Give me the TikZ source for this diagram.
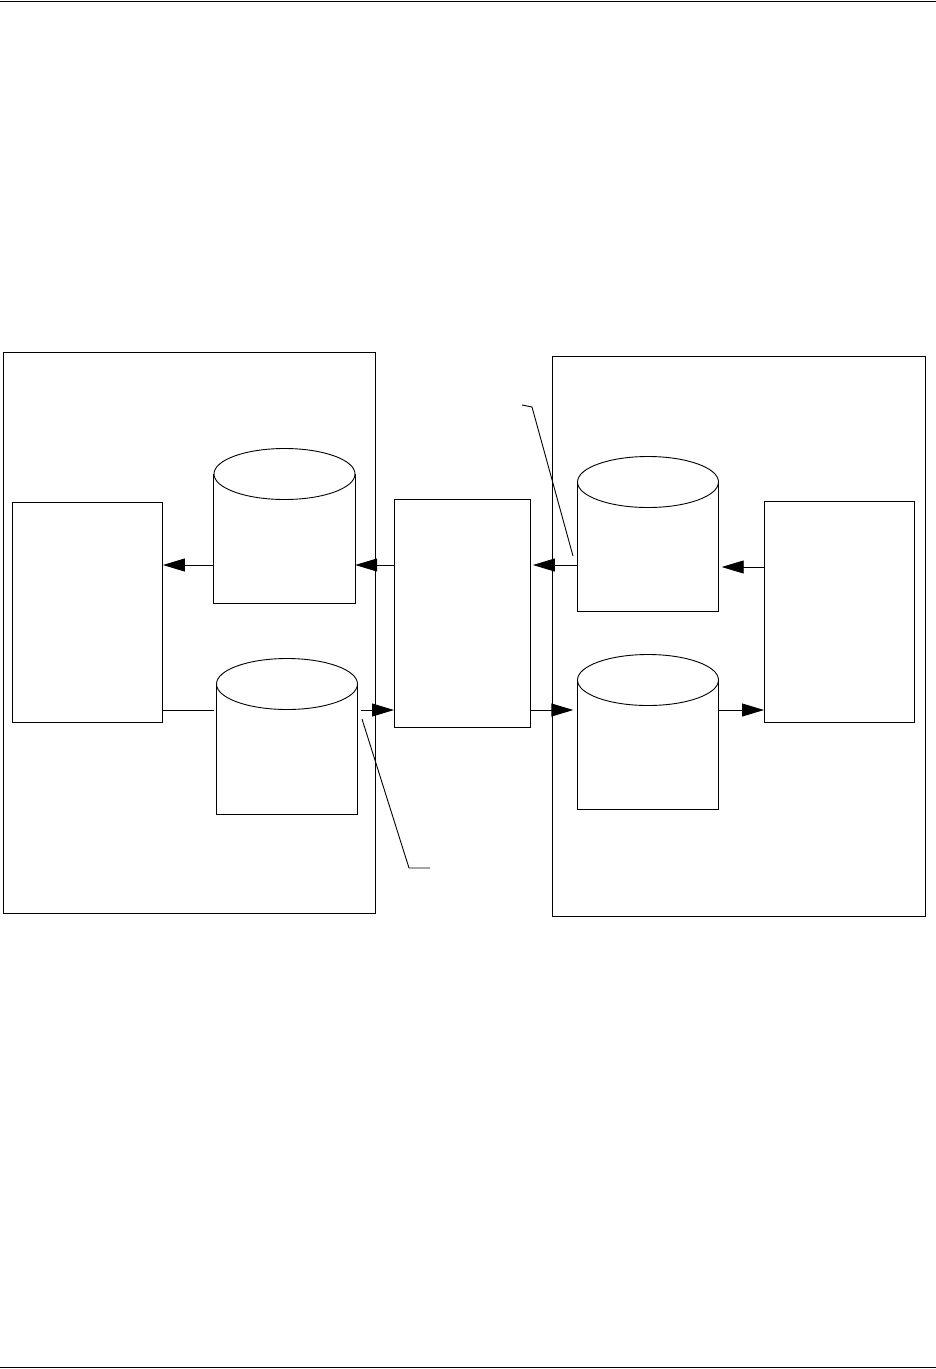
\documentclass[tikz,border=0pt]{standalone}
\usetikzlibrary{arrows.meta}
\tikzset{
  ln/.style={line width=0.9pt},
  arr/.style={ln,-{Triangle[length=22pt,width=13pt]}},
  box/.style={draw,ln,inner sep=0pt},
  cylbody/.style={inner sep=0pt,minimum width=141pt,anchor=north},
}
\newcommand\drawcyl[4]{%
  \node[cylbody,minimum height=#4pt] (#1) at (#2,#3) {};
  \draw[ln] (#1.north) ellipse [x radius=70.5pt,y radius=25.5pt];
  \draw[ln] (#1.north west) -- (#1.south west) -- (#1.south east) -- (#1.north east);
}
\begin{document}
\begin{tikzpicture}[x=1pt,y=-1pt]
\useasboundingbox (0,0) rectangle (936,1369);
% rules
\coordinate (t1) at (0,1.5); \coordinate (t2) at (936,1.5);
\coordinate (b1) at (0,1367.5); \coordinate (b2) at (936,1367.5);
\draw[line width=1.8pt] (t1) -- (t2);
\draw[line width=1.8pt] (b1) -- (b2);
% outer boxes
\node[box,minimum width=372pt,minimum height=561pt,anchor=north west] (outL) at (3,352) {};
\node[box,minimum width=373pt,minimum height=560pt,anchor=north west] (outR) at (552,356) {};
% inner rectangles
\node[box,minimum width=150pt,minimum height=220pt,anchor=north west] (recL) at (12,502) {};
\node[box,minimum width=136pt,minimum height=228pt,anchor=north west] (mid) at (394,499) {};
\node[box,minimum width=150pt,minimum height=221pt,anchor=north west] (recR) at (764,501) {};
% cylinders
\drawcyl{cL1}{284.5}{474}{129}
\drawcyl{cL2}{287}{684}{130}
\drawcyl{cR1}{648}{482}{129}
\drawcyl{cR2}{648}{680}{129}
% level coordinates
\coordinate (yU) at (0,565);
\coordinate (yUR) at (0,567);
\coordinate (yD) at (0,710);
% connectors
\draw[arr] (cL1.west |- yU) -- (recL.east |- yU);
\draw[arr] (mid.west |- yU) -- (cL1.east |- yU);
\draw[arr] (cR1.west |- yU) -- ([xshift=2pt]mid.east |- yU);
\draw[arr] (recR.west |- yUR) -- ([xshift=3pt]cR1.east |- yUR);
\draw[ln] (recL.east |- yD) -- ([xshift=-2pt]cL2.west |- yD);
\draw[arr] ([xshift=3pt]cL2.east |- yD) -- (mid.west |- yD);
\draw[arr] (mid.east |- yD) -- ([xshift=-4pt]cR2.west |- yD);
\draw[arr] (cR2.east |- yD) -- (recR.west |- yD);
% leader lines
\coordinate (lA1) at (362,719); \coordinate (lA2) at (409,868); \coordinate (lA3) at (430,868);
\draw[ln] (lA1) -- (lA2) -- (lA3);
\coordinate (lB1) at (573,556); \coordinate (lB2) at (532,407); \coordinate (lB3) at (522,405);
\draw[ln] (lB1) -- (lB2) -- (lB3);
\end{tikzpicture}
\end{document}
